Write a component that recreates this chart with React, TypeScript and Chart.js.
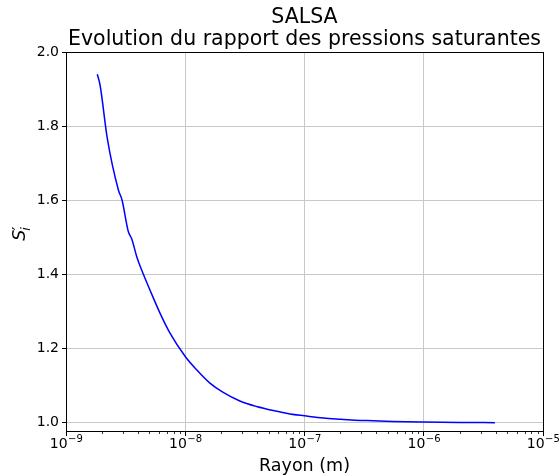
import React, { useEffect, useRef } from "react";
import { Chart, registerables } from "chart.js";

Chart.register(...registerables);

// ---- data ----
const radius = [
  1.83e-9, 1.93e-9, 2.22e-9, 2.75e-9, 2.95e-9, 3.33e-9, 3.56e-9, 3.92e-9,
  4.31e-9, 5.06e-9, 6.14e-9, 7.45e-9, 1.0e-8, 1.246e-8, 1.61e-8, 2.08e-8,
  2.87e-8, 3.97e-8, 5.47e-8, 7.54e-8, 1.0e-7, 1.44e-7, 1.98e-7, 3.33e-7,
  5.5e-7, 1.0e-6, 2.0e-6, 3.95e-6,
];
const ratio = [
  1.94, 1.911, 1.767, 1.628, 1.601, 1.516, 1.496, 1.448,
  1.412, 1.358, 1.296, 1.242, 1.179, 1.143, 1.107, 1.082,
  1.059, 1.044, 1.033, 1.024, 1.019, 1.013, 1.01, 1.006,
  1.0035, 1.002, 1.001, 1.0005,
];

const xMajorTicks = [1e-9, 1e-8, 1e-7, 1e-6, 1e-5];
const xTickBase = "10";
const xTickExponents = ["−9", "−8", "−7", "−6", "−5"];
const xMinorDecades = [-9, -8, -7, -6];
const xMinorMultipliers = [2, 3, 4, 5, 6, 7, 8, 9];
const yTicks = [1.0, 1.2, 1.4, 1.6, 1.8, 2.0];
const titleLines = ["SALSA", "Evolution du rapport des pressions saturantes"];
const xLabel = "Rayon (m)";

const FONT = '"DejaVu Sans", sans-serif';

const decorPlugin = {
  id: "decor",
  afterDraw(chart: any) {
    const { ctx, chartArea: a, scales } = chart;
    const xs = scales.x;
    ctx.save();
    // minor ticks on the x axis
    ctx.strokeStyle = "#000";
    ctx.lineWidth = 0.8;
    for (const d of xMinorDecades) {
      for (const m of xMinorMultipliers) {
        const px = Math.round(xs.getPixelForValue(m * Math.pow(10, d))) + 0.5;
        ctx.beginPath();
        ctx.moveTo(px, a.bottom);
        ctx.lineTo(px, a.bottom + 3);
        ctx.stroke();
      }
    }
    // spines
    ctx.lineWidth = 1;
    ctx.strokeStyle = "#000";
    ctx.strokeRect(
      Math.round(a.left) + 0.5,
      Math.round(a.top) + 0.5,
      Math.round(a.right) - Math.round(a.left),
      Math.round(a.bottom) - Math.round(a.top)
    );
    ctx.fillStyle = "#000";
    ctx.textBaseline = "alphabetic";
    // x tick labels: 10 with superscript exponent
    ctx.textAlign = "left";
    xMajorTicks.forEach((v, i) => {
      const px = xs.getPixelForValue(v);
      ctx.font = `14px ${FONT}`;
      const bw = ctx.measureText(xTickBase).width;
      ctx.font = `10px ${FONT}`;
      const ew = ctx.measureText(xTickExponents[i]).width;
      const left = px - (bw + ew) / 2;
      ctx.font = `14px ${FONT}`;
      ctx.fillText(xTickBase, left, 448);
      ctx.font = `10px ${FONT}`;
      ctx.fillText(xTickExponents[i], left + bw + 0.5, 441.5);
    });
    // titles
    const cx = (a.left + a.right) / 2;
    ctx.textAlign = "center";
    ctx.font = `20.5px ${FONT}`;
    ctx.fillText(titleLines[0], cx, 23);
    ctx.fillText(titleLines[1], cx, 45);
    // x label
    ctx.font = `17.5px ${FONT}`;
    ctx.fillText(xLabel, cx, 471);
    // y label: S'_i
    const cy = 233;
    ctx.translate(25, cy);
    ctx.rotate(-Math.PI / 2);
    ctx.textAlign = "left";
    ctx.font = `italic 17.5px ${FONT}`;
    const sw = ctx.measureText("S").width;
    ctx.font = `italic 12.5px ${FONT}`;
    const iw = ctx.measureText("i").width;
    const total = sw + iw + 1;
    const x0 = -total / 2;
    ctx.font = `italic 17.5px ${FONT}`;
    ctx.fillText("S", x0, 0);
    ctx.font = `16px ${FONT}`;
    ctx.fillText("′", x0 + sw - 0.5, -1.5);
    ctx.font = `italic 12.5px ${FONT}`;
    ctx.fillText("i", x0 + sw - 1, 5);
    ctx.restore();
  },
};

export default function App() {
  const ref = useRef<HTMLCanvasElement | null>(null);

  useEffect(() => {
    document.body.style.margin = "0";
    const canvas = ref.current;
    if (!canvas) return;
    const points = radius.map((r, i) => ({ x: r, y: ratio[i] }));
    const chart = new Chart(canvas, {
      type: "line",
      data: {
        datasets: [
          {
            data: points,
            borderColor: "#0000ff",
            borderWidth: 1.5,
            pointRadius: 0,
            cubicInterpolationMode: "monotone",
            fill: false,
          },
        ],
      },
      options: {
        responsive: false,
        animation: false,
        devicePixelRatio: 1,
        layout: { padding: { top: 52, right: 17, left: 0, bottom: 0 } },
        plugins: {
          legend: { display: false },
          title: { display: false },
          tooltip: { enabled: false },
        },
        scales: {
          x: {
            type: "logarithmic",
            min: 1e-9,
            max: 1e-5,
            afterBuildTicks: (scale: any) => {
              scale.ticks = xMajorTicks.map((v) => ({ value: v, major: true }));
            },
            afterFit: (scale: any) => {
              scale.height = 44;
            },
            ticks: {
              display: false,
              autoSkip: false,
              maxRotation: 0,
            },
            grid: {
              color: "#c8c8c8",
              lineWidth: 1,
              tickColor: "#000",
              tickLength: 5,
            },
            border: { color: "#000", width: 1 },
          },
          y: {
            type: "linear",
            min: 0.978,
            max: 2.0,
            afterBuildTicks: (scale: any) => {
              scale.ticks = yTicks.map((v) => ({ value: v }));
            },
            afterFit: (scale: any) => {
              scale.width = 66;
            },
            ticks: {
              padding: 3,
              color: "#000",
              font: { family: FONT, size: 14 },
              callback: (v: any) => Number(v).toFixed(1),
            },
            grid: {
              color: "#c8c8c8",
              lineWidth: 1,
              tickColor: "#000",
              tickLength: 4,
            },
            border: { color: "#000", width: 1 },
          },
        },
      },
      plugins: [decorPlugin],
    });
    return () => chart.destroy();
  }, []);

  return (
    <div style={{ width: 560, height: 475 }}>
      <canvas ref={ref} width={560} height={475} />
    </div>
  );
}
